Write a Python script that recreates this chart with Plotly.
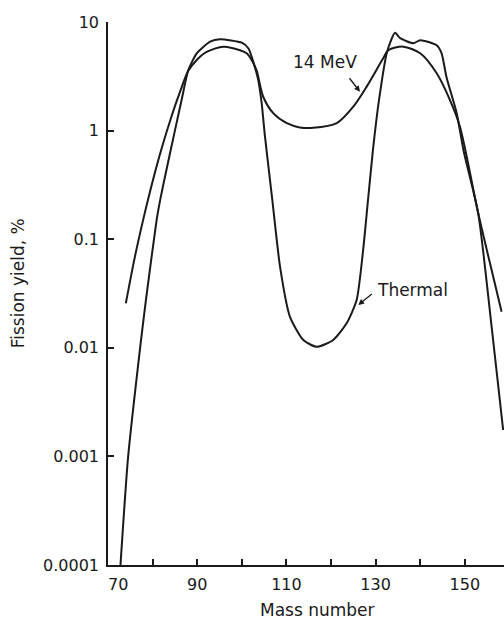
import plotly.graph_objects as go

# ---- data ----
mass_14mev = [74.0, 76.0, 78.0, 80.0, 82.0, 84.0, 86.0, 88.0, 89.9, 92.1, 95.9, 99.6, 101.1,
              102.2, 103.3, 104.8, 107.1, 110.1, 113.0, 116.0, 121.3, 125.0, 128.0,
              131.7, 132.85, 136.2, 140.0, 143.7, 146.7, 148.9, 153.0, 155.65, 158.25]
yield_14mev = [0.0257, 0.068, 0.158, 0.34, 0.68, 1.26, 2.19, 3.55, 4.47, 5.3, 5.93, 5.5, 5.15,
               4.47, 3.6, 2.05, 1.44, 1.17, 1.07, 1.06, 1.17, 1.66, 2.54,
               4.63, 5.5, 5.93, 5.15, 3.37, 1.9, 1.09, 0.174, 0.060, 0.0215]

mass_thermal = [72.8, 74.5, 77.2, 78.5, 80.9, 81.7, 83.1, 85.0, 86.5, 88.0, 89.9, 92.9,
                95.1, 100.0, 101.5, 102.2, 103.7, 104.46, 105.2, 106.84, 108.57,
                110.8, 113.8, 116.8, 120.5, 123.5, 125.75, 127.2, 128.3, 129.4, 130.76, 132.56,
                134.35, 135.5, 138.45, 140.0, 143.7, 144.8, 145.9, 148.2, 149.7, 153.0,
                156.0, 158.6]
yield_thermal = [0.0001, 0.00098, 0.01, 0.0275, 0.15, 0.23, 0.434, 1.0, 1.91, 3.6, 5.15, 6.6,
                 6.93, 6.45, 5.7, 4.8, 2.9, 1.78, 0.88, 0.23, 0.056,
                 0.0193, 0.0118, 0.0102, 0.0118, 0.0168, 0.0275, 0.079, 0.23, 0.66, 1.91, 5.3,
                 7.96, 7.1, 6.37, 6.8, 6.1, 5.15, 3.1, 1.44, 0.66, 0.174,
                 0.0158, 0.00175]

x_tickvals = [70, 80, 90, 100, 110, 120, 130, 140, 150]
x_ticktext = ["\u2007\u200770", "", "90", "", "110", "", "130", "", "150"]
y_tickvals = [0.0001, 0.001, 0.01, 0.1, 1, 10]
y_ticktext = ["0.0001", "0.001", "0.01", "0.1", "1", "10"]

INK = "#1a1a1a"
FONT = "DejaVu Sans"

fig = go.Figure()
fig.add_trace(go.Scatter(x=mass_14mev, y=yield_14mev, mode="lines",
                         line=dict(color=INK, width=2, shape="spline", smoothing=0.8),
                         showlegend=False, hoverinfo="skip"))
fig.add_trace(go.Scatter(x=mass_thermal, y=yield_thermal, mode="lines",
                         line=dict(color=INK, width=2, shape="spline", smoothing=0.6),
                         showlegend=False, hoverinfo="skip"))

annotations = [
    dict(x=118.65, y=0.634, xref="x", yref="y", text="14 MeV", showarrow=False,
         font=dict(size=17, color=INK, family=FONT), xanchor="center", yanchor="middle"),
    dict(x=129.9, y=-1.468, xref="x", yref="y", text="Thermal", showarrow=False,
         font=dict(size=17, color=INK, family=FONT), xanchor="left", yanchor="middle"),
    dict(x=126.5, y=0.358, xref="x", yref="y", ax=123.88, ay=0.496, axref="x", ayref="y",
         text="", showarrow=True, arrowhead=2, arrowsize=0.9, arrowwidth=1.3, arrowcolor=INK),
    dict(x=126.12, y=-1.606, xref="x", yref="y", ax=129.49, ay=-1.493, axref="x", ayref="y",
         text="", showarrow=True, arrowhead=2, arrowsize=0.9, arrowwidth=1.3, arrowcolor=INK),
    dict(x=0.528, y=-0.083, xref="paper", yref="paper", text="Mass number", showarrow=False,
         font=dict(size=17, color=INK, family=FONT), xanchor="center", yanchor="middle"),
    dict(x=-0.227, y=0.519, xref="paper", yref="paper", text="Fission yield, %", showarrow=False,
         textangle=-90, font=dict(size=17, color=INK, family=FONT), xanchor="center", yanchor="middle"),
]

fig.update_layout(
    width=504, height=620,
    margin=dict(l=108, r=0, t=22, b=55),
    paper_bgcolor="white", plot_bgcolor="white",
    font=dict(family=FONT, color=INK, size=16),
    annotations=annotations,
    xaxis=dict(range=[70, 158.79], tickvals=x_tickvals, ticktext=x_ticktext,
               ticks="inside", ticklen=6, tickwidth=1.5, tickcolor=INK,
               showline=True, linecolor=INK, linewidth=1.5,
               showgrid=False, zeroline=False, tickfont=dict(size=16),
               ticklabelstandoff=4),
    yaxis=dict(type="log", range=[-4, 1], tickvals=y_tickvals, ticktext=y_ticktext,
               ticks="inside", ticklen=6, tickwidth=1.5, tickcolor=INK,
               showline=True, linecolor=INK, linewidth=1.5,
               showgrid=False, zeroline=False, tickfont=dict(size=16),
               ticklabelstandoff=4),
)

fig.write_html("out.html")
